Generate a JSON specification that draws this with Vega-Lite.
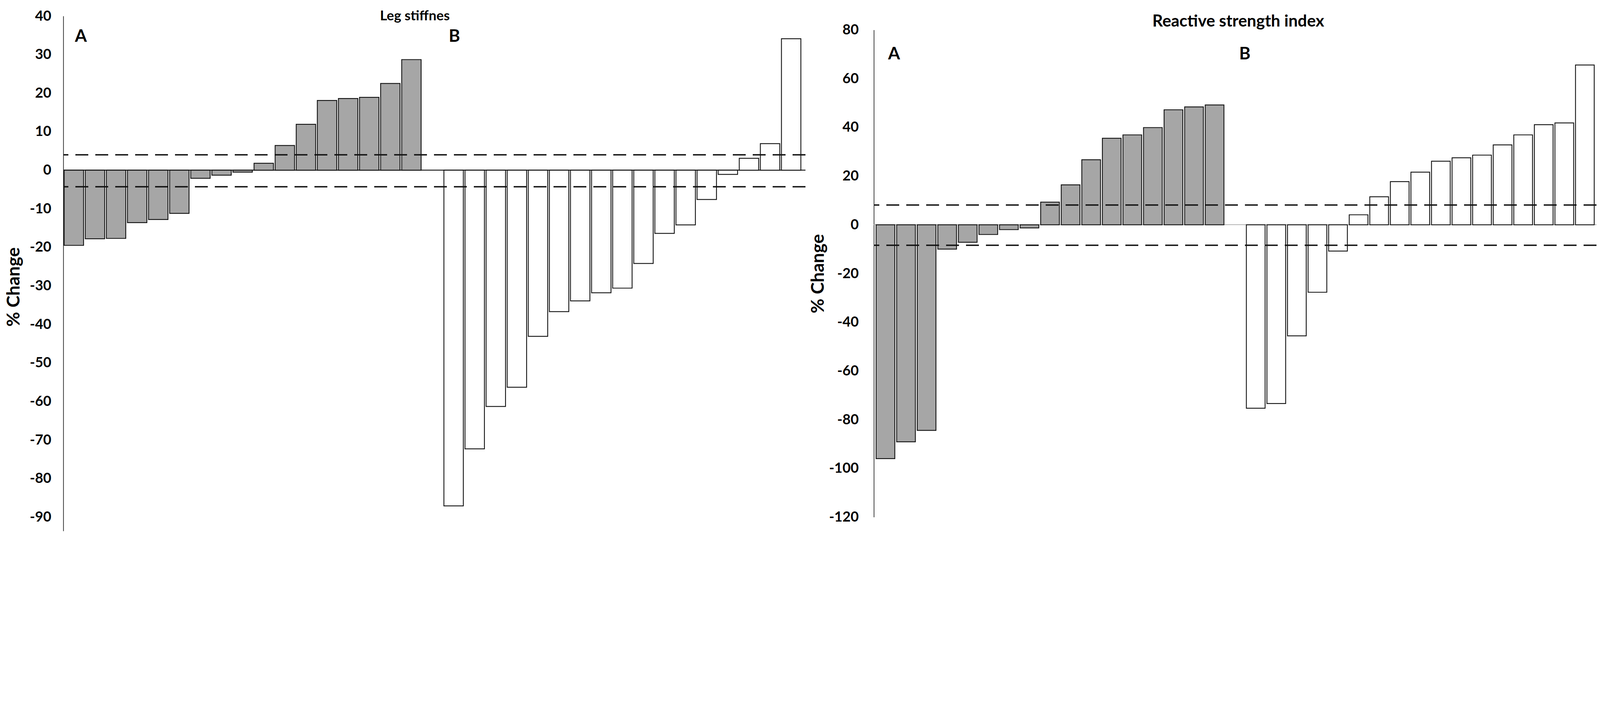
{
  "$schema": "https://vega.github.io/schema/vega-lite/v6.json",
  "padding": {"left": 12, "top": 23, "right": 4, "bottom": 4},
  "bounds": "flush",
  "center": true,
  "spacing": 175,
  "datasets": {
    "ls": [
      {"slot": 1, "group": "A", "value": -19.5}, {"slot": 2, "group": "A", "value": -17.8}, {"slot": 3, "group": "A", "value": -17.7},
      {"slot": 4, "group": "A", "value": -13.6}, {"slot": 5, "group": "A", "value": -12.8}, {"slot": 6, "group": "A", "value": -11.2},
      {"slot": 7, "group": "A", "value": -2.1}, {"slot": 8, "group": "A", "value": -1.3}, {"slot": 9, "group": "A", "value": -0.5},
      {"slot": 10, "group": "A", "value": 1.8}, {"slot": 11, "group": "A", "value": 6.4}, {"slot": 12, "group": "A", "value": 11.9},
      {"slot": 13, "group": "A", "value": 18.1}, {"slot": 14, "group": "A", "value": 18.6}, {"slot": 15, "group": "A", "value": 18.9},
      {"slot": 16, "group": "A", "value": 22.5}, {"slot": 17, "group": "A", "value": 28.7},
      {"slot": 19, "group": "B", "value": -87.1}, {"slot": 20, "group": "B", "value": -72.3}, {"slot": 21, "group": "B", "value": -61.3},
      {"slot": 22, "group": "B", "value": -56.3}, {"slot": 23, "group": "B", "value": -43.1}, {"slot": 24, "group": "B", "value": -36.7},
      {"slot": 25, "group": "B", "value": -33.9}, {"slot": 26, "group": "B", "value": -31.8}, {"slot": 27, "group": "B", "value": -30.6},
      {"slot": 28, "group": "B", "value": -24.2}, {"slot": 29, "group": "B", "value": -16.4}, {"slot": 30, "group": "B", "value": -14.2},
      {"slot": 31, "group": "B", "value": -7.6}, {"slot": 32, "group": "B", "value": -1.1}, {"slot": 33, "group": "B", "value": 3.1},
      {"slot": 34, "group": "B", "value": 6.9}, {"slot": 35, "group": "B", "value": 34.1}
    ],
    "rsi": [
      {"slot": 1, "group": "A", "value": -96.0}, {"slot": 2, "group": "A", "value": -89.1}, {"slot": 3, "group": "A", "value": -84.4},
      {"slot": 4, "group": "A", "value": -10.0}, {"slot": 5, "group": "A", "value": -7.2}, {"slot": 6, "group": "A", "value": -4.0},
      {"slot": 7, "group": "A", "value": -2.0}, {"slot": 8, "group": "A", "value": -1.3}, {"slot": 9, "group": "A", "value": 9.3},
      {"slot": 10, "group": "A", "value": 16.4}, {"slot": 11, "group": "A", "value": 26.7}, {"slot": 12, "group": "A", "value": 35.5},
      {"slot": 13, "group": "A", "value": 36.9}, {"slot": 14, "group": "A", "value": 39.9}, {"slot": 15, "group": "A", "value": 47.2},
      {"slot": 16, "group": "A", "value": 48.4}, {"slot": 17, "group": "A", "value": 49.2},
      {"slot": 19, "group": "B", "value": -75.3}, {"slot": 20, "group": "B", "value": -73.4}, {"slot": 21, "group": "B", "value": -45.6},
      {"slot": 22, "group": "B", "value": -27.7}, {"slot": 23, "group": "B", "value": -10.8}, {"slot": 24, "group": "B", "value": 4.1},
      {"slot": 25, "group": "B", "value": 11.5}, {"slot": 26, "group": "B", "value": 17.7}, {"slot": 27, "group": "B", "value": 21.6},
      {"slot": 28, "group": "B", "value": 26.1}, {"slot": 29, "group": "B", "value": 27.5}, {"slot": 30, "group": "B", "value": 28.6},
      {"slot": 31, "group": "B", "value": 32.8}, {"slot": 32, "group": "B", "value": 36.9}, {"slot": 33, "group": "B", "value": 41.1},
      {"slot": 34, "group": "B", "value": 41.8}, {"slot": 35, "group": "B", "value": 65.6}
    ],
    "lsLines": [{"value": 4.0}, {"value": -4.3}],
    "rsiLines": [{"value": 8.1}, {"value": -8.4}],
    "lsA": [{"slot": 1, "value": 34.6, "label": "A"}],
    "lsB": [{"slot": 19, "value": 34.6, "label": "B"}],
    "rsiA": [{"slot": 1, "value": 69.9, "label": "A"}],
    "rsiB": [{"slot": 19, "value": 69.9, "label": "B"}]
  },
  "hconcat": [
    {
      "width": 1900,
      "height": 1318,
      "title": {"text": "Leg stiffnes", "dx": -50, "dy": 6, "offset": -30, "fontSize": 35},
      "layer": [
        {
          "data": {"name": "lsLines"},
          "mark": {"type": "rule", "color": "#222222", "strokeWidth": 2},
          "encoding": {"y": {"datum": 0, "type": "quantitative"}}
        },
        {
          "data": {"name": "ls"},
          "mark": {"type": "bar", "stroke": "#111111", "strokeWidth": 2.2},
          "encoding": {
            "x": {"field": "slot", "type": "ordinal", "axis": null,
                  "scale": {"domain": [1,2,3,4,5,6,7,8,9,10,11,12,13,14,15,16,17,18,19,20,21,22,23,24,25,26,27,28,29,30,31,32,33,34,35],
                            "paddingInner": 0.08, "paddingOuter": 0.13, "align": 0.16}},
            "y": {"field": "value", "type": "quantitative",
                  "scale": {"domain": [-93.6, 40], "nice": false, "zero": false},
                  "axis": {"values": [-90,-80,-70,-60,-50,-40,-30,-20,-10,0,10,20,30,40], "title": "%  Change",
                           "labelExpr": "'' + datum.value",
                           "labelPadding": 31, "titlePadding": 16, "titleY": 693}},
            "fill": {"field": "group", "type": "nominal", "legend": null,
                     "scale": {"domain": ["A", "B"], "range": ["#a6a6a6", "#ffffff"]}}
          }
        },
        {
          "data": {"name": "lsLines"},
          "mark": {"type": "rule", "color": "#111111", "strokeWidth": 3.5, "strokeDash": [33, 18]},
          "encoding": {"y": {"field": "value", "type": "quantitative"}}
        },
        {
          "data": {"name": "lsA"},
          "mark": {"type": "text", "fontSize": 44, "fontWeight": "bold", "font": "Lato", "baseline": "middle", "dx": 18, "color": "#000000"},
          "encoding": {"x": {"field": "slot", "type": "ordinal"}, "y": {"field": "value", "type": "quantitative"}, "text": {"field": "label"}}
        },
        {
          "data": {"name": "lsB"},
          "mark": {"type": "text", "fontSize": 44, "fontWeight": "bold", "font": "Lato", "baseline": "middle", "dx": 2, "color": "#000000"},
          "encoding": {"x": {"field": "slot", "type": "ordinal"}, "y": {"field": "value", "type": "quantitative"}, "text": {"field": "label"}}
        }
      ]
    },
    {
      "width": 1850,
      "height": 1247,
      "title": {"text": "Reactive strength index", "dx": 8, "dy": -5, "offset": -23, "fontSize": 42},
      "layer": [
        {
          "data": {"name": "rsiLines"},
          "mark": {"type": "rule", "color": "#aaaaaa", "strokeWidth": 1.5},
          "encoding": {"y": {"datum": 0, "type": "quantitative"}}
        },
        {
          "data": {"name": "rsi"},
          "mark": {"type": "bar", "stroke": "#111111", "strokeWidth": 2.2},
          "encoding": {
            "x": {"field": "slot", "type": "ordinal", "axis": null,
                  "scale": {"domain": [1,2,3,4,5,6,7,8,9,10,11,12,13,14,15,16,17,18,19,20,21,22,23,24,25,26,27,28,29,30,31,32,33,34,35],
                            "paddingInner": 0.09, "paddingOuter": 0.11, "align": 0.5}},
            "y": {"field": "value", "type": "quantitative",
                  "scale": {"domain": [-120, 80], "nice": false, "zero": false},
                  "axis": {"values": [-120,-100,-80,-60,-40,-20,0,20,40,60,80], "title": "% Change",
                           "labelExpr": "'' + datum.value",
                           "labelPadding": 39, "titlePadding": 3}},
            "fill": {"field": "group", "type": "nominal", "legend": null,
                     "scale": {"domain": ["A", "B"], "range": ["#a6a6a6", "#ffffff"]}}
          }
        },
        {
          "data": {"name": "rsiLines"},
          "mark": {"type": "rule", "color": "#111111", "strokeWidth": 3.5, "strokeDash": [33, 18]},
          "encoding": {"y": {"field": "value", "type": "quantitative"}}
        },
        {
          "data": {"name": "rsiA"},
          "mark": {"type": "text", "fontSize": 44, "fontWeight": "bold", "font": "Lato", "baseline": "middle", "dx": 22, "color": "#000000"},
          "encoding": {"x": {"field": "slot", "type": "ordinal"}, "y": {"field": "value", "type": "quantitative"}, "text": {"field": "label"}}
        },
        {
          "data": {"name": "rsiB"},
          "mark": {"type": "text", "fontSize": 44, "fontWeight": "bold", "font": "Lato", "baseline": "middle", "dx": -28, "color": "#000000"},
          "encoding": {"x": {"field": "slot", "type": "ordinal"}, "y": {"field": "value", "type": "quantitative"}, "text": {"field": "label"}}
        }
      ]
    }
  ],
  "config": {
    "view": {"stroke": null},
    "font": "Lato",
    "title": {"font": "Lato", "fontWeight": "bold", "color": "#000000", "anchor": "middle", "baseline": "alphabetic", "frame": "group"},
    "axis": {
      "ticks": false, "grid": false,
      "domainColor": "#000000", "domainWidth": 1.5,
      "labelFont": "Lato", "labelFontSize": 36, "labelFontWeight": "bold", "labelColor": "#000000",
      "titleFont": "Lato", "titleFontSize": 46, "titleFontWeight": "bold", "titleColor": "#000000"
    }
  }
}
